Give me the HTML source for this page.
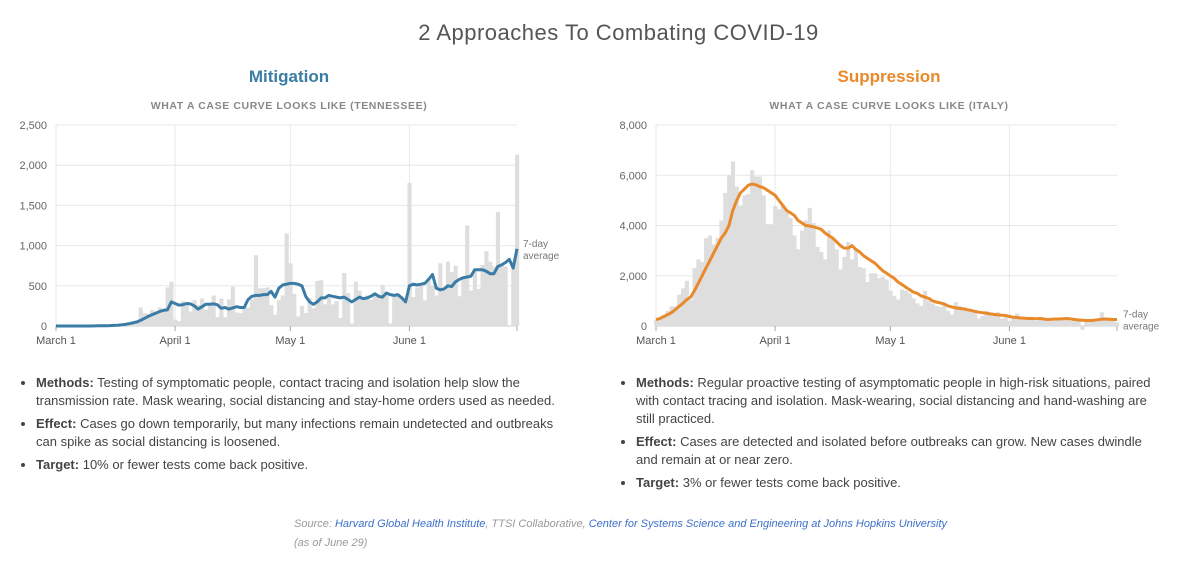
<!DOCTYPE html>
<html><head><meta charset="utf-8">
<style>
body{margin:0;width:1192px;height:566px;background:#fff;font-family:"Liberation Sans",sans-serif;overflow:hidden;position:relative}
.abs{position:absolute}
h1{position:absolute;top:20px;left:0;width:1237px;text-align:center;margin:0;font-weight:normal;font-size:22px;color:#555;letter-spacing:0.5px}
.ct{position:absolute;top:67px;font-size:17px;font-weight:bold;text-align:center;width:400px}
.sub{position:absolute;top:100px;font-size:10.5px;font-weight:bold;color:#888;letter-spacing:0.6px;text-align:center;width:400px}
ul{position:absolute;margin:0;padding:0 0 0 16px;font-size:13px;color:#444;line-height:18px;list-style:disc}
li{margin-bottom:5px}
.src{position:absolute;left:294px;top:515px;font-size:11px;color:#999;font-style:italic;line-height:19px}
.src a{color:#3b6fc9;text-decoration:none}
</style></head><body>
<h1>2 Approaches To Combating COVID-19</h1>
<div class="ct" style="left:89px;color:#3a7ca5">Mitigation</div>
<div class="sub" style="left:89px">WHAT A CASE CURVE LOOKS LIKE (TENNESSEE)</div>
<div class="ct" style="left:689px;color:#e8892a">Suppression</div>
<div class="sub" style="left:689px">WHAT A CASE CURVE LOOKS LIKE (ITALY)</div>
<svg id="svg" class="abs" style="left:0;top:0" width="1192" height="360"></svg>
<ul style="left:20px;top:374px;width:540px">
<li><b>Methods:</b> Testing of symptomatic people, contact tracing and isolation help slow the transmission rate. Mask wearing, social distancing and stay-home orders used as needed.</li>
<li><b>Effect:</b> Cases go down temporarily, but many infections remain undetected and outbreaks can spike as social distancing is loosened.</li>
<li><b>Target:</b> 10% or fewer tests come back positive.</li>
</ul>
<ul style="left:620px;top:374px;width:526px">
<li><b>Methods:</b> Regular proactive testing of asymptomatic people in high-risk situations, paired with contact tracing and isolation. Mask-wearing, social distancing and hand-washing are still practiced.</li>
<li><b>Effect:</b> Cases are detected and isolated before outbreaks can grow. New cases dwindle and remain at or near zero.</li>
<li><b>Target:</b> 3% or fewer tests come back positive.</li>
</ul>
<div class="src">Source: <a href="#">Harvard Global Health Institute</a>, TTSI Collaborative, <a href="#">Center for Systems Science and Engineering at Johns Hopkins University</a><br>(as of June 29)</div>
<script>
const monthLabels=["March 1","April 1","May 1","June 1"];
const monthDays=[0,31,61,92];
const tnTicks=[0,500,1000,1500,2000,2500];
const itTicks=[0,2000,4000,6000,8000];
const tnBars=[0,0,0,0,0,0,0,0,0,0,
2,3,5,5,8,10,15,20,30,40,
60,70,230,160,150,200,180,230,200,480,
550,80,60,310,280,180,320,260,340,200,
260,380,110,340,110,330,490,170,160,240,
230,330,880,470,470,480,260,140,320,380,
1150,780,400,120,250,160,350,220,560,570,
270,350,270,310,100,660,410,30,550,440,
340,380,330,390,380,510,400,30,380,400,
350,300,1780,360,480,510,320,560,500,380,
780,440,800,670,750,370,620,1250,440,680,
460,760,930,800,740,1420,760,740,0,740,
2130];
const tnAvg=[0,0,0,0,0,0,0,0,0,0,
1,2,3,4,5,7,10,14,20,28,
38,50,70,95,120,140,160,180,195,200,
300,280,260,265,280,275,250,210,240,270,
270,275,265,220,230,210,225,240,230,230,
330,370,380,380,390,390,430,360,470,510,
520,530,530,520,500,370,300,270,300,350,
350,380,370,360,350,360,330,300,330,360,
340,350,370,400,370,360,410,390,380,390,
350,300,500,520,510,520,530,580,640,470,
450,460,500,490,550,580,600,610,620,700,
700,700,680,650,650,740,760,790,830,720,
960];
const itBars=[240,300,450,600,780,780,1250,1500,1800,1050,
2300,2650,2550,3500,3600,3250,3500,4200,5300,6000,
6550,5550,4800,5200,5250,6200,5950,5950,5200,4050,
4050,4780,4650,4800,4600,4300,3600,3050,3800,4200,
4700,4100,3150,2950,2650,3800,3500,3050,2250,2750,
3350,2650,3050,2350,2300,1750,2100,2100,1900,1950,
1850,1400,1200,1050,1450,1400,1300,1100,900,800,
1400,1000,900,800,750,900,600,450,950,800,
750,650,650,550,300,400,600,500,420,550,
300,400,200,300,500,300,250,300,250,200,
300,250,300,200,300,250,300,250,200,300,
200,-150,250,200,200,250,550,300,250,200,
150];
const itAvg=[250,300,370,450,530,650,780,900,1050,1150,
1400,1700,2000,2300,2600,2900,3200,3500,3700,4000,
4600,5000,5300,5450,5600,5650,5620,5550,5500,5400,
5300,5200,5000,4800,4600,4500,4400,4200,4100,4000,
3980,3950,3900,3850,3700,3600,3500,3350,3200,3100,
3100,3200,3050,2950,2800,2700,2600,2500,2350,2200,
2100,2000,1900,1750,1650,1550,1450,1350,1300,1200,
1150,1100,1000,950,920,880,800,760,720,700,
680,650,620,580,550,530,510,480,460,440,
430,420,380,350,340,320,310,300,300,290,
300,280,260,270,280,280,290,300,280,260,
240,230,220,220,230,250,270,280,270,260,
260];
const NS="http://www.w3.org/2000/svg";
const svg=document.getElementById('svg');
function mk(tag,attrs,parent){const e=document.createElementNS(NS,tag);for(const k in attrs)e.setAttribute(k,attrs[k]);(parent||svg).appendChild(e);return e;}
function chart(x0,bars,avg,ticks,ymax,color,prefix){
 const x1=x0+461,yT=125,yB=326,nd=120;
 const X=d=>x0+d*(x1-x0)/nd, Y=v=>yB-v*(yB-yT)/ymax, bw=(x1-x0)/nd;
 const g=mk('g',{});
 
 
 ticks.forEach(t=>{
  const l=mk('line',{x1:x0,x2:x1,y1:Y(t),y2:Y(t),stroke:t?'#e8e8e8':'#ccc','stroke-width':1},g);
  
  
  const tx=mk('text',{x:x0-9,y:Y(t)+4,'text-anchor':'end','font-size':11,fill:'#666'},g);
  tx.textContent=t.toLocaleString('en-US');
  
  
 });
 monthDays.forEach((d,i)=>{
  const l=mk('line',{x1:X(d),x2:X(d),y1:yT,y2:yB+5,stroke:'#e8e8e8'},g);
  
  
  mk('line',{x1:X(d),x2:X(d),y1:yB,y2:yB+5,stroke:'#aaa'},g);
  const tx=mk('text',{x:X(d),y:yB+18,'text-anchor':'middle','font-size':11,fill:'#555'},g);
  tx.textContent=monthLabels[i];
  
  
 });
 mk('line',{x1:x1,x2:x1,y1:yB,y2:yB+5,stroke:'#aaa'},g);
 bars.forEach((v,i)=>{
  const ya=Y(Math.max(v,0)),yb=Y(Math.min(v,0));
  const r=mk('rect',{x:X(i)-bw/2,y:ya,width:bw+0.3,height:Math.max(yb-ya,0),fill:'#dedede'},g);
  
  
 });
 const p=mk('path',{d:avg.map((v,i)=>(i?'L':'M')+X(i).toFixed(1)+','+Y(v).toFixed(1)).join(''),fill:'none',stroke:color,'stroke-width':3,'stroke-linejoin':'round'},g);
 
 
 const last=avg[avg.length-1];
 const lb=mk('text',{x:x1+6,y:Y(last)-2,'font-size':10,fill:'#777'},g);
 lb.innerHTML='<tspan x="'+(x1+6)+'">7-day</tspan><tspan x="'+(x1+6)+'" dy="12">average</tspan>';
 
 
}
chart(56,tnBars,tnAvg,tnTicks,2500,'#3a7ca5','tennessee');
chart(656,itBars,itAvg,itTicks,8000,'#e8892a','italy');
</script>
</body></html>
